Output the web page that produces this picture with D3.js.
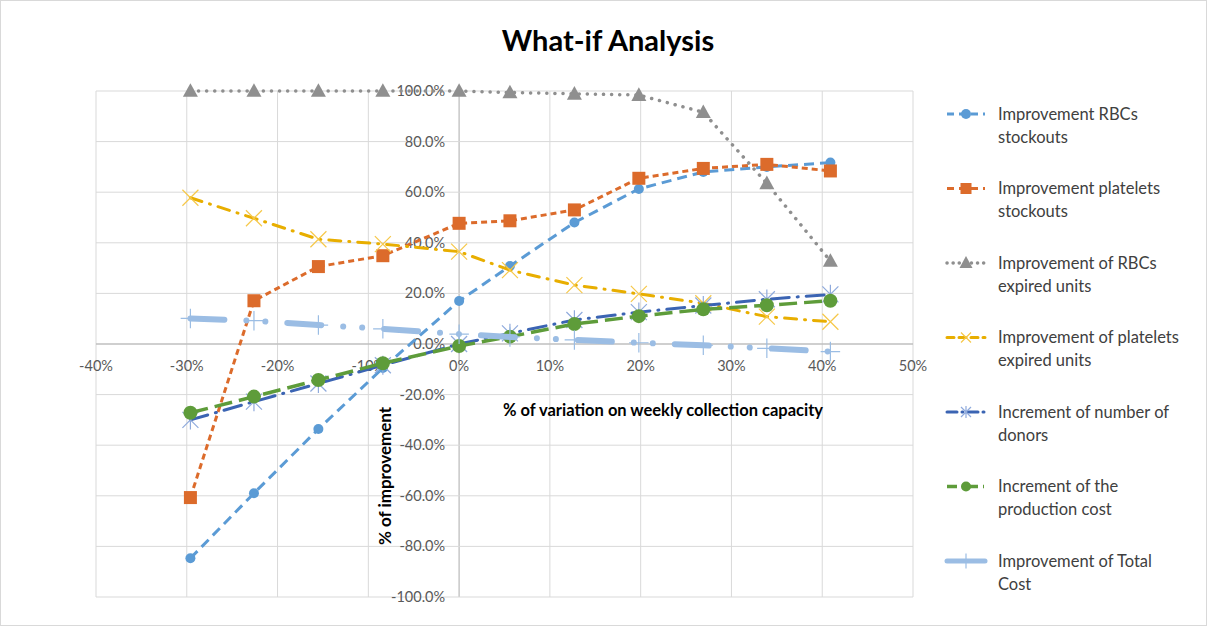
<!DOCTYPE html>
<html>
<head>
<meta charset="utf-8">
<script src="https://cdn.jsdelivr.net/npm/d3@7"></script>
<style>
  html, body { margin: 0; padding: 0; background: #fff; }
  svg { display: block; font-family: Lato, "Open Sans", "Liberation Sans", sans-serif; }
</style>
</head>
<body>
<svg id="chart" width="1207" height="626"></svg>
<script>
// ---- data ----
const title = "What-if Analysis";
const xTitle = "% of  variation on  weekly collection  capacity";
const yTitle = "% of improvement";
const variation = [-29.6, -22.6, -15.5, -8.4, 0, 5.6, 12.7, 19.8, 26.9, 33.9, 40.9];
const rbcStockouts = [-84.7, -59.0, -33.6, -9.5, 17.0, 30.8, 48.0, 61.3, 68.0, 70.0, 71.7];
const plateletStockouts = [-60.7, 17.1, 30.6, 34.9, 47.7, 48.7, 53.0, 65.5, 69.4, 71.0, 68.4];
const rbcExpired = [100, 100, 100, 100, 100, 99.4, 98.9, 98.4, 91.6, 63.5, 32.8];
const plateletExpired = [57.8, 49.7, 41.4, 39.5, 36.5, 29.2, 23.3, 19.8, 16.1, 10.8, 8.8];
const donors = [-30.0, -22.8, -15.6, -8.4, 0.0, 4.2, 9.5, 12.6, 15.2, 17.7, 19.6];
const productionCost = [-27.2, -20.8, -14.2, -7.6, -0.8, 2.9, 7.9, 11.0, 13.7, 15.3, 17.1];
const totalCost = [10.1, 9.2, 7.5, 6.0, 3.9, 2.8, 1.6, 0.5, -0.5, -1.7, -3.0];
const xTicks = [-40, -30, -20, -10, 0, 10, 20, 30, 40, 50];
const yTicks = [-100, -80, -60, -40, -20, 0, 20, 40, 60, 80, 100];
const seriesNames = [
  ["Improvement RBCs", "stockouts"],
  ["Improvement platelets", "stockouts"],
  ["Improvement of RBCs", "expired units"],
  ["Improvement of platelets", "expired units"],
  ["Increment of number of", "donors"],
  ["Increment of the", "production cost"],
  ["Improvement of Total", "Cost"]
];

// ---- styles ----
const styles = [
  {vals: rbcStockouts, color: "#5B9BD5", width: 3, dash: "10,6", cap: "butt", marker: "circle", mfill: "#5B9BD5", msize: 5},
  {vals: plateletStockouts, color: "#DC6B2B", width: 3, dash: "6,4", cap: "butt", marker: "square", mfill: "#DC6B2B", msize: 13},
  {vals: rbcExpired, color: "#8F8F8F", width: 3.5, dash: "0.1,8", cap: "round", marker: "triangle", mfill: "#8F8F8F", msize: 13},
  {vals: plateletExpired, color: "#E8AE00", width: 3, dash: "12,8,1,8", cap: "round", marker: "x", mfill: "#F6C84A", msize: 8},
  {vals: donors, color: "#3B64B3", width: 3, dash: "18,8,1,8", cap: "round", marker: "asterisk", mfill: "#8FAADC", msize: 8},
  {vals: productionCost, color: "#5E9C3A", width: 3.5, dash: "18,7", cap: "butt", marker: "circle", mfill: "#5E9C3A", msize: 7},
  {vals: totalCost, color: "#9BBDE4", width: 6, dash: "34,22,0.01,19,0.01,22", cap: "round", marker: "plus", mfill: "#9BBDE4", msize: 6.5}
];

const svg = d3.select("#chart");
const W = 1207, H = 626;

svg.append("rect").attr("x", 0.5).attr("y", 0.5).attr("width", W - 1).attr("height", H - 1)
  .attr("fill", "#fff").attr("stroke", "#d9d9d9");

const x = d3.scaleLinear().domain([-40, 50]).range([96, 913]);
const y = d3.scaleLinear().domain([-100, 100]).range([597, 91]);

// gridlines
const g = svg.append("g");
g.selectAll(".vg").data(xTicks).join("line")
  .attr("x1", d => x(d)).attr("x2", d => x(d)).attr("y1", y(100)).attr("y2", y(-100))
  .attr("stroke", d => d === 0 ? "#bfbfbf" : "#d9d9d9").attr("stroke-width", d => d === 0 ? 1.3 : 1);
g.selectAll(".hg").data(yTicks).join("line")
  .attr("x1", x(-40)).attr("x2", x(50)).attr("y1", d => y(d)).attr("y2", d => y(d))
  .attr("stroke", d => d === 0 ? "#bfbfbf" : "#d9d9d9").attr("stroke-width", d => d === 0 ? 1.3 : 1);

// axis tick labels
svg.append("g").selectAll("text").data(xTicks).join("text")
  .attr("x", d => x(d)).attr("y", y(0) + 27).attr("text-anchor", "middle")
  .attr("font-size", 14.5).attr("fill", "#595959").text(d => d + "%");
svg.append("g").selectAll("text").data(yTicks).join("text")
  .attr("x", x(0) - 14).attr("y", d => y(d) + 5).attr("text-anchor", "end")
  .attr("font-size", 14.5).attr("fill", "#595959").text(d => d.toFixed(1) + "%");

// title
svg.append("text").attr("x", 608).attr("y", 51).attr("text-anchor", "middle")
  .attr("font-size", 29).attr("font-weight", "bold").attr("fill", "#000").text(title);

// axis titles
svg.append("text").attr("x", 663).attr("y", 416).attr("text-anchor", "middle")
  .attr("font-size", 16.5).attr("font-weight", "bold").attr("fill", "#000").text(xTitle);
svg.append("text").attr("transform", "translate(391,476) rotate(-90)").attr("text-anchor", "middle")
  .attr("font-size", 17).attr("font-weight", "bold").attr("fill", "#000").text(yTitle);

// markers
function drawMarker(sel, s, cx, cy) {
  const m = s.marker, r = s.msize;
  if (m === "circle") {
    sel.append("circle").attr("cx", cx).attr("cy", cy).attr("r", r).attr("fill", s.mfill);
  } else if (m === "square") {
    sel.append("rect").attr("x", cx - r / 2).attr("y", cy - r / 2).attr("width", r).attr("height", r).attr("fill", s.mfill);
  } else if (m === "triangle") {
    const h = r * 0.9;
    sel.append("path").attr("d", `M${cx},${cy - h / 2 - 2} L${cx + r / 2 + 1},${cy + h / 2} L${cx - r / 2 - 1},${cy + h / 2} Z`).attr("fill", s.mfill);
  } else if (m === "x") {
    sel.append("path").attr("d", `M${cx - r},${cy - r} L${cx + r},${cy + r} M${cx - r},${cy + r} L${cx + r},${cy - r}`)
      .attr("stroke", s.mfill).attr("stroke-width", 1.2).attr("fill", "none");
  } else if (m === "asterisk") {
    sel.append("path").attr("d", `M${cx - r},${cy - r} L${cx + r},${cy + r} M${cx - r},${cy + r} L${cx + r},${cy - r} M${cx},${cy - r * 1.2} L${cx},${cy + r * 1.2}`)
      .attr("stroke", s.mfill).attr("stroke-width", 1.2).attr("fill", "none");
  } else if (m === "plus") {
    sel.append("path").attr("d", `M${cx - r * 1.5},${cy} L${cx + r * 1.5},${cy} M${cx},${cy - r * 1.5} L${cx},${cy + r * 1.5}`)
      .attr("stroke", s.mfill).attr("stroke-width", 1.2).attr("fill", "none");
  }
}

const line = d3.line().x(d => x(d[0])).y(d => y(d[1]));
styles.forEach(s => {
  const gs = svg.append("g");
  const pts = variation.map((v, i) => [v, s.vals[i]]);
  gs.append("path").attr("d", line(pts)).attr("fill", "none")
    .attr("stroke", s.color).attr("stroke-width", s.width)
    .attr("stroke-dasharray", s.dash).attr("stroke-linecap", s.cap).attr("stroke-linejoin", "round");
  pts.forEach(p => drawMarker(gs, s, x(p[0]), y(p[1])));
});

// legend
const lg = svg.append("g");
styles.forEach((s, i) => {
  const ly = 114 + i * 74.5;
  const gl = lg.append("g");
  gl.append("line").attr("x1", 947).attr("x2", 985).attr("y1", ly).attr("y2", ly)
    .attr("stroke", s.color).attr("stroke-width", s.width === 6 ? 5 : s.width)
    .attr("stroke-dasharray", s.marker === "plus" ? null : (s.dash === "0.1,8" ? "0.1,6" : (s.dash.startsWith("18") ? "10,5,1,5" : "7,5")))
    .attr("stroke-linecap", s.cap);
  drawMarker(gl, Object.assign({}, s, {msize: s.marker === "square" ? 11 : (s.marker === "circle" ? 5 : (s.marker === "triangle" ? 11 : 5))}), 966, ly);
  seriesNames[i].forEach((t, j) => {
    gl.append("text").attr("x", 998).attr("y", ly + 5.5 + j * 23).attr("font-size", 16.5)
      .attr("fill", "#404040").text(t);
  });
});
</script>
</body>
</html>
